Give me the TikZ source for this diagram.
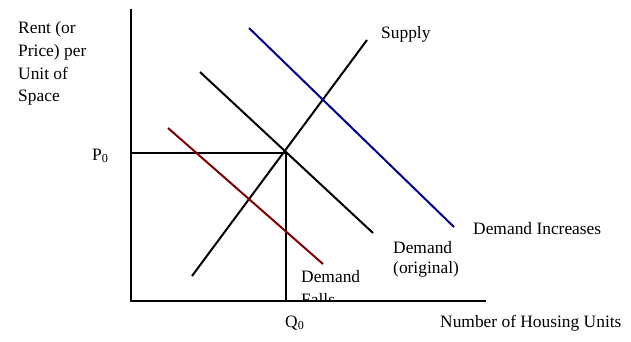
\documentclass[tikz,border=0pt]{standalone}
\usepackage{fontspec}
\setmainfont{Liberation Serif}
\begin{document}
\begin{tikzpicture}[x=1pt,y=-1pt,
  lbl/.style={anchor=base west,inner sep=0pt,font=\fontsize{17.4}{22}\selectfont},
  axisline/.style={line width=2pt,black},
  curve/.style={line width=2pt},
  guide/.style={line width=1.6pt,black}]
\useasboundingbox[fill=white] (0,0) rectangle (631,341);
% coordinates
\coordinate (O) at (131,301);
\coordinate (ytop) at (131,9);
\coordinate (xend) at (486,301);
\coordinate (E) at (286,153);
\coordinate (P) at (131,153);
\coordinate (Q) at (286,301);
\coordinate (S1) at (192,276);
\coordinate (S2) at (367,40);
\coordinate (D1) at (200,72);
\coordinate (D2) at (373,233);
\coordinate (I1) at (249,28);
\coordinate (I2) at (454,227);
\coordinate (F1) at (168,128);
\coordinate (F2) at (323,264);
% labels
\node[lbl] (r1) at (18,33) {Rent (or};
\node[lbl] (r2) at (18,56) {Price) per};
\node[lbl] (r3) at (18,79) {Unit of};
\node[lbl] (r4) at (18,101) {Space};
\node[lbl] (sup) at (381,38) {Supply};
\node[lbl] (p0) at (92,160) {P\textsubscript{0}};
\node[lbl] (q0) at (285,327) {Q\textsubscript{0}};
\node[lbl] (nh) at (440,327) {Number of Housing Units};
\node[lbl] (di) at (473,234) {Demand Increases};
\node[lbl] (do1) at (393,253) {Demand};
\node[lbl] (do2) at (393,273) {(original)};
\node[lbl] (df1) at (301,282) {Demand};
\begin{scope}
\clip (0,0) rectangle (631,300);
\node[lbl] (df2) at (301,305) {Falls};
\end{scope}
% guides
\draw[guide] (P) -- (E) -- (Q);
% curves
\draw[curve,black] (S1) -- (S2);
\draw[curve,black] (D1) -- (D2);
\draw[curve,color={rgb,255:red,0;green,0;blue,140}] (I1) -- (I2);
\draw[curve,color={rgb,255:red,128;green,0;blue,0}] (F1) -- (F2);
% axes
\draw[axisline] (ytop) -- (O) -- (xend);
\end{tikzpicture}
\end{document}
